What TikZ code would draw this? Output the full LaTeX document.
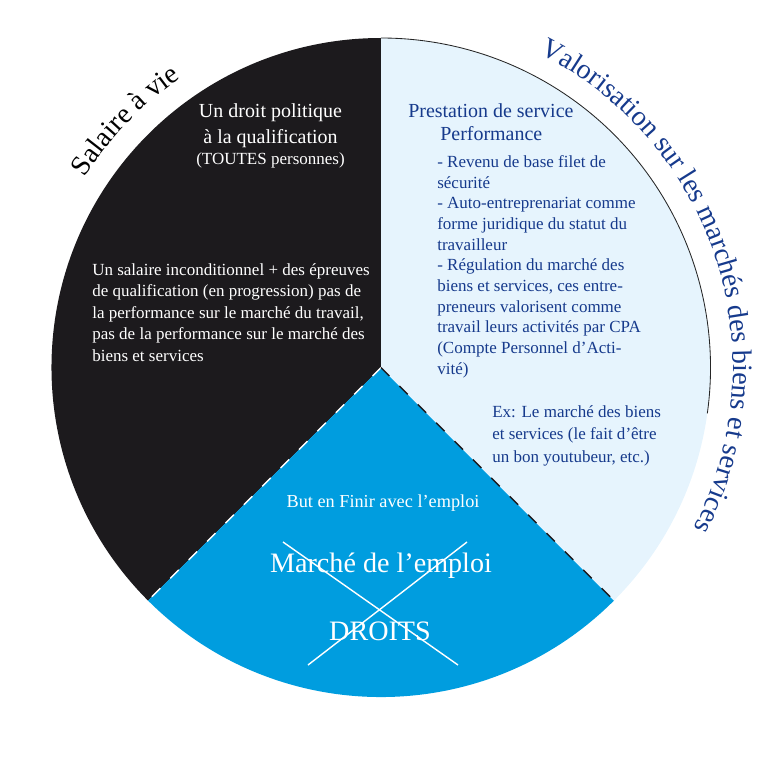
\documentclass[tikz,border=0pt]{standalone}
\usepackage{fontspec}
\setmainfont{Liberation Serif}
\usetikzlibrary{decorations.text}
\definecolor{pieblack}{RGB}{28,26,29}
\definecolor{pieblue}{RGB}{0,157,223}
\definecolor{pielight}{RGB}{230,244,253}
\definecolor{pietext}{RGB}{22,58,140}
\tikzset{
  txtwhite/.style={text=white,inner sep=0pt},
  txtblue/.style={text=pietext,inner sep=0pt},
  gros/.style={font=\fontsize{20}{24}\selectfont},
  moyen/.style={font=\fontsize{14.2}{18.5}\selectfont},
  petit/.style={font=\fontsize{12.1}{14.7}\selectfont},
  tiret/.style={line width=1pt,dash pattern=on 8.5pt off 10pt},
}

\begin{document}
\begin{tikzpicture}
\useasboundingbox (0,0) rectangle (19,-19);
\coordinate (mid) at (9.525,-9.188);
\fill[pieblack] (mid) -- (9.525,-0.950) arc[start angle=90,end angle=225,radius=8.238] -- cycle;
\fill[pieblue] (mid) -- (3.700,-15.013) arc[start angle=225,end angle=315,radius=8.238] -- cycle;
\fill[pielight] (mid) -- (15.350,-15.013) arc[start angle=-45,end angle=90,radius=8.238] -- cycle;
\draw[black!85,line width=0.6pt] (9.525,-0.950) arc[start angle=90,end angle=-8,radius=8.238];
\draw[white,tiret] (mid) -- (3.700,-15.013);
\draw[pieblack,tiret] (mid) -- (15.350,-15.013);

\begin{scope}[shift={(mid)}]
\path[decorate,decoration={text along path,text align=center,
  text={|\fontsize{20}{24}\selectfont\color{black}|Salaire à vie}}]
  (176:8.8) arc[start angle=176,end angle=96,radius=8.8];
\path[decorate,decoration={text along path,text align=center,
  text={|\fontsize{20}{24}\selectfont\color{pietext}|Valorisation sur les marchés des biens et services}}]
  (75:8.8) arc[start angle=75,end angle=-39,radius=8.8];
\end{scope}

\node[txtwhite,moyen,align=center,anchor=north] (droit) at (6.763,-2.575)
  {Un droit politique\\à la qualification\\[-3.5pt]{\fontsize{12.1}{14.7}\selectfont (TOUTES personnes)}};
\node[txtwhite,font=\fontsize{12.1}{15.3}\selectfont,align=left,anchor=north west] (salaire) at (2.300,-6.575)
  {Un salaire inconditionnel + des épreuves\\de qualification (en progression) pas de\\la performance sur le marché du travail,\\pas de la performance sur le marché des\\biens et services};

\node[txtblue,moyen,anchor=north west] (prestation) at (10.200,-2.585) {Prestation de service};
\node[txtblue,moyen,anchor=north west] (perf) at (11.000,-3.160) {Performance};
\node[txtblue,petit,align=left,anchor=north west] (liste) at (10.925,-3.885)
  {- Revenu de base filet de\\sécurité\\- Auto-entreprenariat comme\\forme juridique du statut du\\travailleur\\- Régulation du marché des\\biens et services, ces entre-\\preneurs valorisent comme\\travail leurs activités par CPA\\(Compte Personnel d’Acti-\\vité)};
\node[txtblue,font=\fontsize{12.1}{16}\selectfont,align=left,anchor=north west] (exemple) at (12.300,-10.128)
  {Ex: Le marché des biens\\et services (le fait d’être\\un bon youtubeur, etc.)};

\node[txtwhite,font=\fontsize{13}{16}\selectfont,anchor=base] (but) at (9.575,-12.675) {But en Finir avec l’emploi};
\node[txtwhite,gros,anchor=base] (marche) at (9.525,-14.300) {Marché de l’emploi};
\node[txtwhite,gros,anchor=base] (droits) at (9.500,-16.017) {DROITS};
\draw[white,line width=1pt] (7.075,-13.550) -- (11.450,-16.625);
\draw[white,line width=1pt] (11.675,-13.550) -- (7.700,-16.625);
\end{tikzpicture}
\end{document}
